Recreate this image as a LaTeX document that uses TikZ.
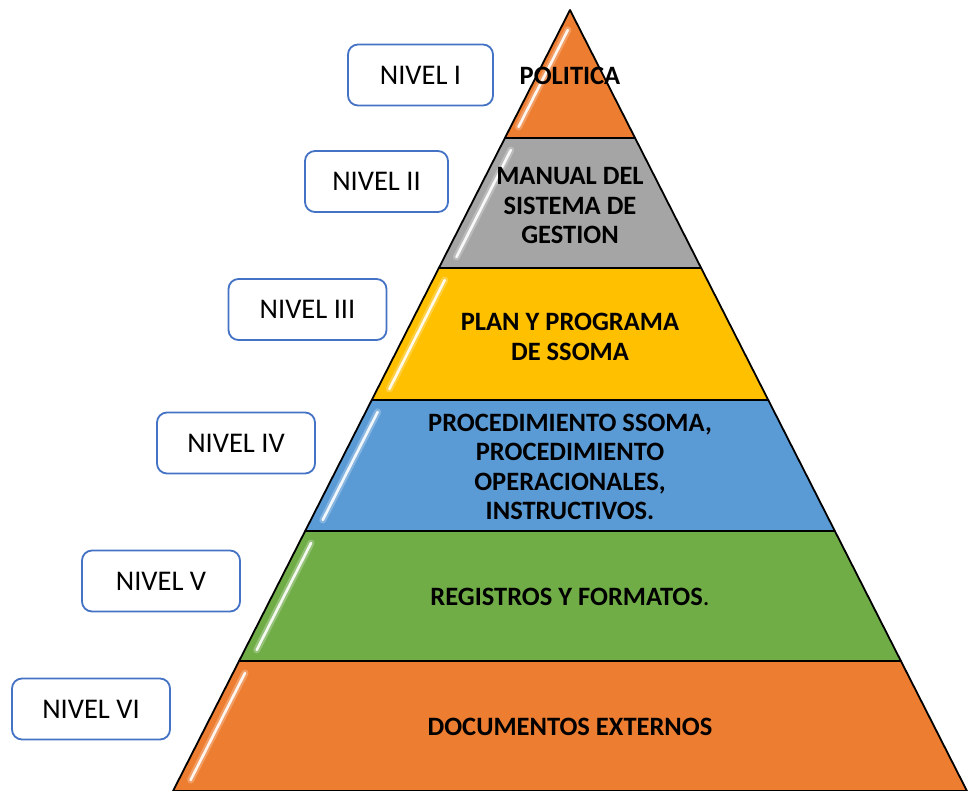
\documentclass[tikz,border=0pt]{standalone}
\usepackage{fontspec}
\setmainfont{Carlito}
\definecolor{cOrange}{HTML}{ED7D31}
\definecolor{cGray}{HTML}{A5A5A5}
\definecolor{cYellow}{HTML}{FFC000}
\definecolor{cBlue}{HTML}{5B9BD5}
\definecolor{cGreen}{HTML}{70AD47}
\definecolor{cFrame}{HTML}{4472C4}
\tikzset{
  levelbox/.style={draw=cFrame, line width=1.8pt, rounded corners=10pt, fill=white,
    minimum height=61pt, inner sep=0pt, font=\fontsize{28.5}{32}\selectfont},
  bandtext/.style={align=center, inner sep=0pt, font=\fontsize{26.5}{29.5}\selectfont\bfseries},
  bandedge/.style={draw=black, line width=1.8pt, line join=round},
}
\begin{document}
\begin{tikzpicture}[x=1pt,y=-1pt]
\useasboundingbox (0,0) rectangle (969,791);
\foreach \t/\b/\c/\hs/\ho in {10/138/cOrange/20/8,138/268/cGray/12/12,268/400/cYellow/12/12,400/531/cBlue/12/12,531/661/cGreen/12/12,661/791/cOrange/12/12}{
  \pgfmathsetmacro\lt{570-0.5083*(\t-10)}
  \pgfmathsetmacro\rt{570+0.5083*(\t-10)}
  \pgfmathsetmacro\lb{570-0.5083*(\b-10)}
  \pgfmathsetmacro\rb{570+0.5083*(\b-10)}
  \pgfmathsetmacro\ya{\t+\hs}
  \pgfmathsetmacro\yb{\b-11}
  \pgfmathsetmacro\xa{570-0.5083*(\ya-10)+\ho}
  \pgfmathsetmacro\xb{570-0.5083*(\yb-10)+\ho}
  \fill[\c] (\lt,\t) -- (\rt,\t) -- (\rb,\b) -- (\lb,\b) -- cycle;
  \draw[white, line width=7pt, opacity=0.25, line cap=round] (\xa,\ya) -- (\xb,\yb);
  \draw[white, line width=2.6pt, opacity=0.9, line cap=round] (\xa,\ya) -- (\xb,\yb);
  \draw[bandedge] (\lt,\t) -- (\rt,\t) -- (\rb,\b) -- (\lb,\b) -- cycle;
}
\node[bandtext] (t1) at (570,75.5) {POLITICA};
\node[bandtext] (t2) at (570,206) {MANUAL DEL\\SISTEMA DE\\GESTION};
\node[bandtext] (t3) at (570,337) {PLAN Y PROGRAMA\\DE SSOMA};
\node[bandtext] (t4) at (570,467) {PROCEDIMIENTO SSOMA,\\PROCEDIMIENTO\\OPERACIONALES,\\INSTRUCTIVOS.};
\node[bandtext] (t5) at (570,596.5) {REGISTROS Y FORMATOS{\mdseries.}};
\node[bandtext] (t6) at (570,727) {DOCUMENTOS EXTERNOS};
\node[levelbox, minimum width=145pt] (n1) at (420.5,75) {NIVEL I};
\node[levelbox, minimum width=143pt] (n2) at (376.5,181.5) {NIVEL II};
\node[levelbox, minimum width=158pt] (n3) at (307.5,309.5) {NIVEL III};
\node[levelbox, minimum width=158pt] (n4) at (236,443) {NIVEL IV};
\node[levelbox, minimum width=158pt] (n5) at (161,581) {NIVEL V};
\node[levelbox, minimum width=158pt] (n6) at (91,709) {NIVEL VI};
\end{tikzpicture}
\end{document}
